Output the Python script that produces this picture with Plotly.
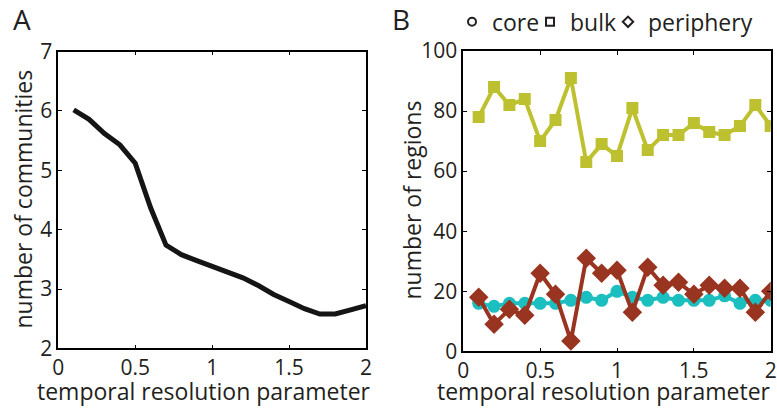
import plotly.graph_objects as go

gamma = [0.1, 0.2, 0.3, 0.4, 0.5, 0.6, 0.7, 0.8, 0.9, 1.0,
         1.1, 1.2, 1.3, 1.4, 1.5, 1.6, 1.7, 1.8, 1.9, 2.0]
n_communities = [6.02, 5.86, 5.62, 5.43, 5.12, 4.37, 3.74, 3.58, 3.48, 3.39,
                 3.29, 3.19, 3.06, 2.91, 2.79, 2.67, 2.58, 2.58, 2.65, 2.72]
core = [16, 15, 16, 16, 16, 16, 17, 18, 17, 20,
        18, 17, 18, 17, 17, 17, 18.5, 16, 17, 17]
bulk = [78, 88, 82, 84, 70, 77, 91, 63, 69, 65,
        81, 67, 72, 72, 76, 73, 72, 75, 82, 75]
periphery = [18, 9, 14, 12, 26, 19, 3.5, 31, 26, 27,
             13, 28, 22, 23, 19, 22, 21, 21, 13, 20]

x_ticks = [0, 0.5, 1, 1.5, 2]
x_ticklabels = ["0", "0.5", "1", "1.5", "2"]
yA_ticks = [2, 3, 4, 5, 6, 7]
yB_ticks = [0, 20, 40, 60, 80, 100]
legend_names = ["core", "bulk", "periphery"]
legend_symbols = ["circle-open", "square-open", "diamond-open"]

C_CORE = "#1CBFBF"
C_BULK = "#BEC12F"
C_PERI = "#993420"
TXT = "#231F20"
FONT = "Open Sans"

W, H = 777, 408
fig = go.Figure()

# Panel A
fig.add_trace(go.Scatter(x=gamma, y=n_communities, mode="lines",
                         line=dict(color="#151515", width=5),
                         showlegend=False, xaxis="x", yaxis="y"))

# Panel B
fig.add_trace(go.Scatter(x=gamma, y=core, mode="lines+markers",
                         line=dict(color=C_CORE, width=4),
                         marker=dict(symbol="circle", size=13, color=C_CORE),
                         showlegend=False, xaxis="x2", yaxis="y2"))
fig.add_trace(go.Scatter(x=gamma, y=bulk, mode="lines+markers",
                         line=dict(color=C_BULK, width=4),
                         marker=dict(symbol="square", size=12, color=C_BULK),
                         showlegend=False, xaxis="x2", yaxis="y2"))
fig.add_trace(go.Scatter(x=gamma, y=periphery, mode="lines+markers",
                         line=dict(color=C_PERI, width=4),
                         marker=dict(symbol="diamond", size=15, color=C_PERI),
                         showlegend=False, xaxis="x2", yaxis="y2"))

# legend entries (black open symbols, as in the reference key)
for name, sym in zip(legend_names, legend_symbols):
    fig.add_trace(go.Scatter(x=[None], y=[None], mode="markers", name=name,
                             marker=dict(symbol=sym, size=8, color=TXT, line=dict(width=2, color=TXT)),
                             xaxis="x2", yaxis="y2"))
# blank spacer entry so the last label is not clipped by the fixed entry width
fig.add_trace(go.Scatter(x=[None], y=[None], mode="markers", name=" ",
                         marker=dict(size=1, color="rgba(0,0,0,0)"),
                         xaxis="x2", yaxis="y2"))

axis_common = dict(showgrid=False, zeroline=False, showline=True, linecolor="black",
                   linewidth=1.5, mirror="ticks", ticks="inside", ticklen=4,
                   tickcolor="black", automargin=False,
                   tickfont=dict(size=21, color=TXT, family=FONT))
TFONT = dict(size=23, color=TXT, family=FONT)

fig.update_layout(
    width=W, height=H,
    margin=dict(l=0, r=0, t=0, b=0),
    paper_bgcolor="white", plot_bgcolor="white",
    font=dict(family=FONT, color=TXT, size=21),
    xaxis=dict(domain=[58.3 / W, 366 / W], range=[0, 2], tickvals=x_ticks, ticktext=x_ticklabels,
               anchor="y", **axis_common),
    yaxis=dict(domain=[1 - 348 / H, 1 - 49 / H], range=[2, 7], tickvals=yA_ticks,
               anchor="x", **axis_common),
    xaxis2=dict(domain=[463.3 / W, 770.7 / W], range=[0, 2], tickvals=x_ticks, ticktext=x_ticklabels,
                anchor="y2", **axis_common),
    yaxis2=dict(domain=[1 - 351 / H, 1 - 48.3 / H], range=[0, 100], tickvals=yB_ticks,
                anchor="x2", **axis_common),
    legend=dict(orientation="h", x=452 / W, y=1 - 19 / H, xanchor="left", yanchor="middle",
                font=dict(size=23, color=TXT, family=FONT), itemwidth=30,
                entrywidth=33, entrywidthmode="pixels",
                bgcolor="rgba(0,0,0,0)", tracegroupgap=0),
    annotations=[
        dict(text="A", x=11 / W, y=1 + 5 / H, xref="paper", yref="paper", xanchor="left",
             yanchor="top", showarrow=False, font=dict(size=28, color=TXT, family=FONT)),
        dict(text="B", x=390 / W, y=1 + 5 / H, xref="paper", yref="paper", xanchor="left",
             yanchor="top", showarrow=False, font=dict(size=28, color=TXT, family=FONT)),
        dict(text="number of communities", textangle=-90, x=23 / W, y=1 - 198 / H,
             xref="paper", yref="paper", xanchor="center", yanchor="middle",
             showarrow=False, font=TFONT),
        dict(text="number of regions", textangle=-90, x=412 / W, y=1 - 199 / H,
             xref="paper", yref="paper", xanchor="center", yanchor="middle",
             showarrow=False, font=TFONT),
        dict(text="temporal resolution parameter", x=204 / W, y=-1 / H,
             xref="paper", yref="paper", xanchor="center", yanchor="bottom",
             showarrow=False, font=TFONT),
        dict(text="temporal resolution parameter", x=604 / W, y=-1 / H,
             xref="paper", yref="paper", xanchor="center", yanchor="bottom",
             showarrow=False, font=TFONT),
    ],
)

fig.write_html("out.html", config={"displayModeBar": False},
               post_script="document.body.style.margin='0px';")
